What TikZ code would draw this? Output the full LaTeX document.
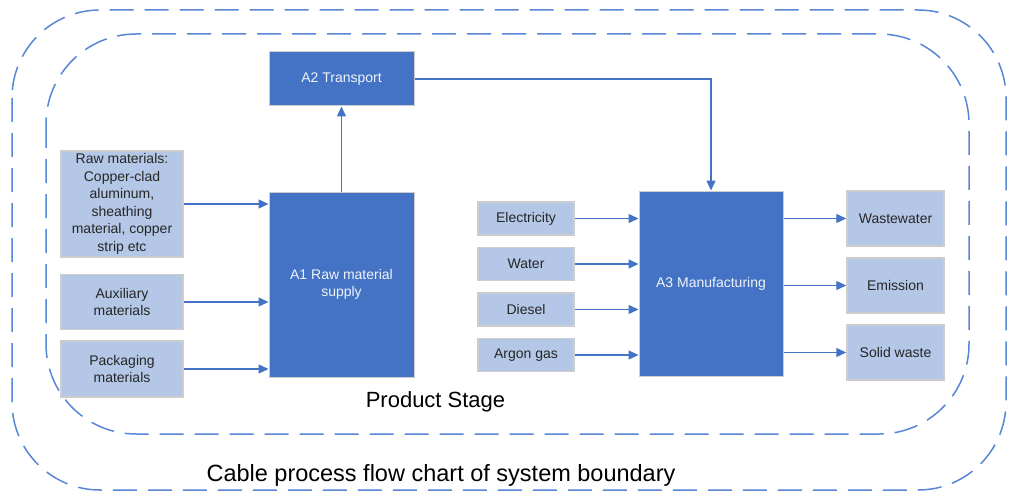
\documentclass[tikz,border=0pt]{standalone}
\usepackage{fontspec}
\setmainfont{Liberation Sans}
\usepackage{xcolor}
\usetikzlibrary{arrows.meta,positioning,calc}
\definecolor{primary}{RGB}{68,114,196}
\definecolor{light}{RGB}{180,199,231}
\definecolor{edge}{RGB}{205,205,205}
\definecolor{dash}{RGB}{88,134,214}

\begin{document}
\begin{tikzpicture}[
    x=1pt, y=-1pt,
    stage/.style={rectangle, draw=edge, fill=primary, text=white!92!primary, line width=1pt, minimum width=145pt, inner sep=0pt, align=center, font=\fontsize{14}{17.5}\selectfont},
    item/.style={rectangle, draw=edge, fill=light, text=black!85, line width=1.5pt, inner sep=0pt, align=center, font=\fontsize{14}{17.5}\selectfont},
    arrow/.style={-{Triangle[length=10pt,width=9pt]}, draw=primary, line width=1.3pt},
    boundary/.style={draw=dash, line width=1.5pt, dash pattern=on 24pt off 11pt}
]
    \useasboundingbox (0,0) rectangle (1011,492);

    % system boundary and product stage
    \draw[boundary, rounded corners=88pt] (12,10) rectangle (1006,490);
    \draw[boundary, rounded corners=90pt] (46,34) rectangle (969,434);

    % stages
    \node[stage, minimum height=185pt] (a1) at (341.5,284.5) {A1 Raw material\\supply};
    \node[stage, minimum height=54pt, above=85pt of a1] (a2) {A2 Transport};
    \node[stage, minimum width=144pt, minimum height=185pt] (a3) at (711,283.5) {A3 Manufacturing};

    % materials
    \node[item, minimum width=122pt, minimum height=106pt] (raw) at (122,204) {Raw materials:\\Copper-clad\\aluminum,\\sheathing\\material, copper\\strip etc};
    \node[item, minimum width=122pt, minimum height=55pt, below=16pt of raw] (aux) {Auxiliary\\materials};
    \node[item, minimum width=122pt, minimum height=56pt, below=10pt of aux] (pack) {Packaging\\materials};

    % inputs
    \node[item, minimum width=96pt, minimum height=33pt] (elec) at (526,218.5) {Electricity};
    \node[item, minimum width=96pt, minimum height=33pt, below=11pt of elec] (water) {Water};
    \node[item, minimum width=96pt, minimum height=33pt, below=11pt of water] (diesel) {Diesel};
    \node[item, minimum width=96pt, minimum height=33pt, below=11pt of diesel] (argon) {Argon gas};

    % outputs
    \node[item, minimum width=97pt, minimum height=55pt] (waste) at (895.5,218.5) {Wastewater};
    \node[item, minimum width=97pt, minimum height=55pt, below=10.5pt of waste] (emission) {Emission};
    \node[item, minimum width=97pt, minimum height=55pt, below=10.5pt of emission] (solid) {Solid waste};

    % labels
    \node[anchor=base, font=\fontsize{22}{26}\selectfont] (stagename) at (435.5,407) {Product Stage};
    \node[anchor=base, font=\fontsize{23.5}{28}\selectfont] (caption) at (441,481) {Cable process flow chart of system boundary};

    % flows
    \foreach \m in {raw,aux,pack}
        \draw[arrow] (\m) -- (\m -| a1.west);
    \draw[arrow] (a1) -- (a2);
    \draw[arrow] (a2) -| (a3);
    \foreach \m in {elec,water,diesel,argon}
        \draw[arrow] (\m) -- (\m -| a3.west);
    \foreach \m in {waste,emission,solid}
        \draw[arrow] (\m -| a3.east) -- (\m);
\end{tikzpicture}
\end{document}
